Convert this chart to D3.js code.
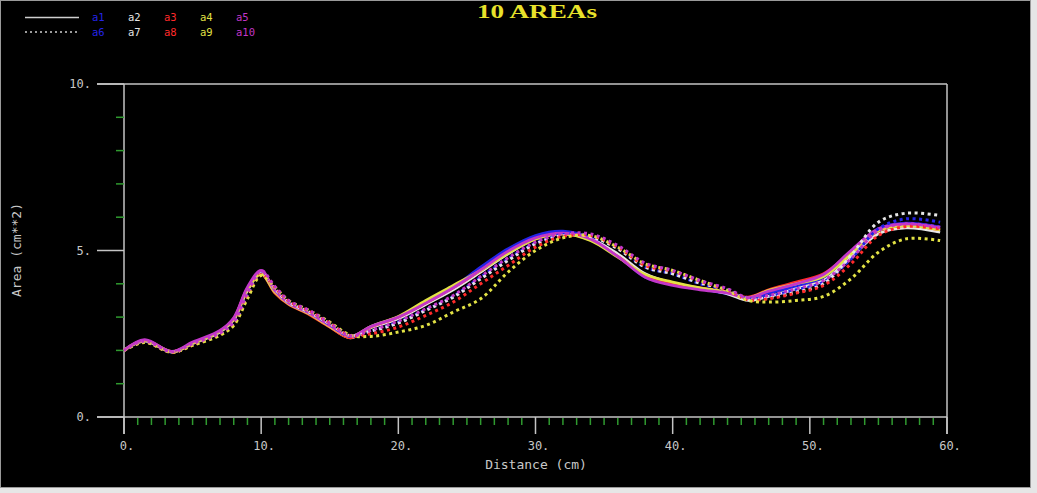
<!DOCTYPE html>
<html>
<head>
    <script src="https://d3js.org/d3.v7.min.js"></script>
    <style>
        html, body {
            margin: 0;
            padding: 0;
            background: #e6e6e6;
            overflow: hidden;
        }

        .mono {
            font-family: 'DejaVu Sans Mono', monospace;
            fill: #c8c8c8;
        }

        .series {
            fill: none;
            stroke-linejoin: round;
        }
    </style>
</head>

<body>
    <script>
        // distance (cm) sample points shared by every series
        const distance = [0, 1.5, 3.5, 5, 7, 8, 9, 10, 11, 12, 13.5, 15, 16.5, 18, 20, 22, 24, 26, 28, 30,
            32, 34, 36, 38, 40, 42, 44, 45.5, 47, 49, 51, 53, 55, 57, 59.5];

        // area (cm**2) per series
        const a1 = [2.0, 2.3, 1.95, 2.22, 2.58, 2.95, 3.85, 4.35, 3.75, 3.4, 3.1, 2.72, 2.4, 2.72, 3.0, 3.45, 3.9, 4.5, 5.05, 5.45,
            5.58, 5.38, 4.85, 4.2, 3.98, 3.85, 3.7, 3.55, 3.72, 3.92, 4.2, 4.95, 5.65, 5.82, 5.7];
        const a2 = [2.0, 2.28, 1.95, 2.2, 2.55, 2.92, 3.8, 4.32, 3.78, 3.42, 3.1, 2.72, 2.38, 2.68, 2.95, 3.38, 3.82, 4.35, 4.9, 5.35,
            5.5, 5.35, 4.9, 4.3, 4.02, 3.86, 3.7, 3.5, 3.62, 3.85, 4.1, 4.8, 5.5, 5.68, 5.55];
        const a3 = [2.0, 2.3, 1.96, 2.22, 2.58, 2.95, 3.85, 4.3, 3.72, 3.38, 3.08, 2.7, 2.38, 2.7, 3.0, 3.42, 3.88, 4.4, 4.95, 5.35,
            5.5, 5.32, 4.82, 4.25, 4.02, 3.88, 3.75, 3.6, 3.82, 4.05, 4.3, 4.95, 5.6, 5.75, 5.62];
        const a4 = [2.0, 2.3, 1.96, 2.22, 2.58, 2.95, 3.85, 4.3, 3.75, 3.4, 3.1, 2.72, 2.42, 2.72, 3.02, 3.5, 3.95, 4.4, 4.92, 5.35,
            5.5, 5.3, 4.8, 4.28, 4.05, 3.88, 3.75, 3.58, 3.8, 4.0, 4.22, 4.9, 5.6, 5.75, 5.62];
        const a5 = [2.0, 2.32, 1.97, 2.25, 2.6, 2.98, 3.9, 4.4, 3.8, 3.42, 3.12, 2.75, 2.42, 2.72, 3.0, 3.42, 3.88, 4.42, 4.98, 5.38,
            5.52, 5.35, 4.82, 4.2, 3.95, 3.82, 3.72, 3.58, 3.78, 4.0, 4.28, 5.0, 5.65, 5.8, 5.68];
        const a6 = [2.0, 2.25, 1.95, 2.18, 2.5, 2.82, 3.68, 4.3, 3.85, 3.45, 3.15, 2.78, 2.42, 2.58, 2.85, 3.22, 3.62, 4.2, 4.75, 5.22,
            5.48, 5.45, 5.08, 4.5, 4.3, 4.0, 3.8, 3.55, 3.62, 3.82, 4.05, 4.75, 5.65, 5.95, 5.85];
        const a7 = [2.0, 2.26, 1.95, 2.18, 2.5, 2.82, 3.68, 4.3, 3.85, 3.45, 3.15, 2.8, 2.44, 2.58, 2.82, 3.2, 3.6, 4.15, 4.7, 5.2,
            5.45, 5.42, 5.05, 4.5, 4.3, 4.02, 3.82, 3.55, 3.58, 3.75, 4.0, 4.85, 5.85, 6.12, 6.05];
        const a8 = [2.0, 2.25, 1.94, 2.16, 2.48, 2.78, 3.62, 4.28, 3.88, 3.48, 3.18, 2.82, 2.44, 2.5, 2.7, 3.05, 3.45, 4.0, 4.55, 5.1,
            5.42, 5.45, 5.1, 4.55, 4.38, 4.08, 3.8, 3.52, 3.55, 3.72, 3.95, 4.6, 5.45, 5.72, 5.65];
        const a9 = [2.0, 2.24, 1.94, 2.15, 2.45, 2.75, 3.55, 4.25, 3.9, 3.5, 3.2, 2.85, 2.46, 2.42, 2.55, 2.75, 3.15, 3.55, 4.35, 5.0,
            5.38, 5.45, 5.1, 4.6, 4.4, 4.1, 3.8, 3.5, 3.45, 3.5, 3.62, 4.15, 4.95, 5.35, 5.3];
        const a10 = [2.0, 2.28, 1.96, 2.2, 2.52, 2.85, 3.72, 4.4, 3.92, 3.5, 3.2, 2.82, 2.44, 2.6, 2.88, 3.25, 3.65, 4.22, 4.78, 5.25,
            5.5, 5.5, 5.15, 4.62, 4.4, 4.1, 3.85, 3.58, 3.65, 3.85, 4.1, 4.75, 5.6, 5.8, 5.7];

        const seriesNames = ['a1', 'a2', 'a3', 'a4', 'a5', 'a6', 'a7', 'a8', 'a9', 'a10'];
        const seriesValues = [a1, a2, a3, a4, a5, a6, a7, a8, a9, a10];
        const palette = ['#2424e8', '#e6e6e6', '#ff2a2a', '#e2e244', '#c236c8'];

        const xTicks = [0, 10, 20, 30, 40, 50, 60];
        const yTicks = [0, 5, 10];

        const width = 1037,
            height = 493;

        const x = d3.scaleLinear().domain([0, 60]).range([124, 947]);
        const y = d3.scaleLinear().domain([0, 10]).range([417, 84]);

        const fmt = v => `${v}.`;

        const svg = d3.select('body').append('svg')
            .attr('width', width)
            .attr('height', height)
            .style('display', 'block');

        svg.append('rect')
            .attr('x', 0.5).attr('y', 0.5)
            .attr('width', 1030).attr('height', 487)
            .attr('fill', '#000')
            .attr('stroke', '#9a9a9a');

        // title
        svg.append('text')
            .attr('x', 477).attr('y', 18)
            .attr('textLength', 120)
            .attr('lengthAdjust', 'spacingAndGlyphs')
            .style('font-family', "'Liberation Serif', serif")
            .style('font-weight', 'bold')
            .style('font-size', '18px')
            .style('fill', '#e8e22a')
            .text('10 AREAs');

        // legend
        const legend = svg.append('g');
        [0, 1].forEach(row => {
            legend.append('line')
                .attr('x1', 25).attr('x2', 79)
                .attr('y1', 17.5 + row * 14.5).attr('y2', 17.5 + row * 14.5)
                .attr('stroke', '#cfcfcf')
                .attr('stroke-width', 1.5)
                .attr('stroke-dasharray', row ? '2,3' : null);
        });
        legend.selectAll('text')
            .data(seriesNames)
            .join('text')
            .attr('x', (d, i) => 92 + (i % 5) * 36)
            .attr('y', (d, i) => 21 + Math.floor(i / 5) * 14.5)
            .style('font-family', "'DejaVu Sans Mono', monospace")
            .style('font-size', '10.5px')
            .style('fill', (d, i) => palette[i % 5])
            .text(d => d);

        // frame + axes
        const axis = svg.append('g')
            .attr('stroke', '#c4c4c4')
            .attr('stroke-width', 1.5);

        axis.append('line').attr('x1', x(0)).attr('x2', x(0)).attr('y1', y(10)).attr('y2', 434);
        axis.append('line').attr('x1', x(60)).attr('x2', x(60)).attr('y1', y(10)).attr('y2', 434);
        axis.append('line').attr('x1', 97).attr('x2', x(60)).attr('y1', y(10)).attr('y2', y(10));
        axis.append('line').attr('x1', 97).attr('x2', x(60)).attr('y1', y(0)).attr('y2', y(0));

        axis.selectAll('.ymajor')
            .data(yTicks)
            .join('line')
            .attr('class', 'ymajor')
            .attr('x1', 97).attr('x2', x(0))
            .attr('y1', d => y(d)).attr('y2', d => y(d));

        axis.selectAll('.xmajor')
            .data(xTicks)
            .join('line')
            .attr('class', 'xmajor')
            .attr('x1', d => x(d)).attr('x2', d => x(d))
            .attr('y1', y(0)).attr('y2', 434);

        // green minor ticks
        const minor = svg.append('g')
            .attr('stroke', '#2f9a2f')
            .attr('stroke-width', 1.5);

        minor.selectAll('.xminor')
            .data(d3.range(1, 60).filter(d => d % 10 !== 0))
            .join('line')
            .attr('x1', d => x(d)).attr('x2', d => x(d))
            .attr('y1', y(0) + 1).attr('y2', y(0) + 8);

        minor.selectAll('.yminor')
            .data(d3.range(1, 10).filter(d => d !== 5))
            .join('line')
            .attr('x1', x(0) - 8).attr('x2', x(0))
            .attr('y1', d => y(d)).attr('y2', d => y(d));

        // tick labels
        svg.selectAll('.xlab')
            .data(xTicks)
            .join('text')
            .attr('class', 'mono')
            .attr('x', d => x(d) + 3)
            .attr('y', 450)
            .attr('text-anchor', 'middle')
            .style('font-size', '12px')
            .text(fmt);

        svg.selectAll('.ylab')
            .data(yTicks)
            .join('text')
            .attr('class', 'mono')
            .attr('x', 91)
            .attr('y', d => y(d) + 4)
            .attr('text-anchor', 'end')
            .style('font-size', '12px')
            .text(fmt);

        svg.append('text')
            .attr('class', 'mono')
            .attr('x', 536).attr('y', 469)
            .attr('text-anchor', 'middle')
            .style('font-size', '13px')
            .text('Distance (cm)');

        svg.append('text')
            .attr('class', 'mono')
            .attr('transform', 'translate(21,250) rotate(-90)')
            .attr('text-anchor', 'middle')
            .style('font-size', '13px')
            .text('Area (cm**2)');

        // curves
        const line = d3.line()
            .x((d, i) => x(distance[i]))
            .y(d => y(d))
            .curve(d3.curveCatmullRom.alpha(0.5));

        svg.append('g')
            .selectAll('path')
            .data(seriesValues)
            .join('path')
            .attr('class', 'series')
            .attr('d', line)
            .attr('stroke', (d, i) => palette[i % 5])
            .attr('stroke-width', (d, i) => i < 5 ? 2.8 : 3)
            .attr('stroke-dasharray', (d, i) => i < 5 ? null : '3,3.5');
    </script>
</body>

</html>
